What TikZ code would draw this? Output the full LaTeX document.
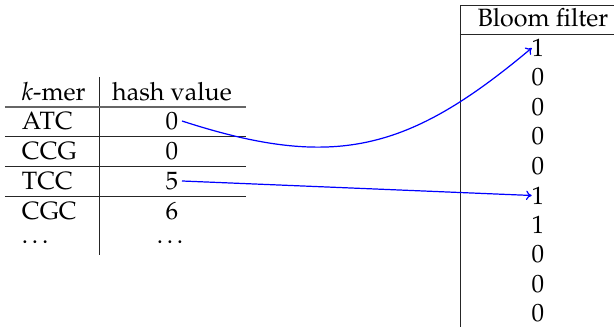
\documentclass[tikz,border=0pt]{standalone}
\usepackage[T1]{fontenc}
\usepackage{mathpazo}
\usetikzlibrary{arrows.meta}
\begin{document}
\begin{tikzpicture}[x=0.535pt,y=0.535pt,
  font=\fontsize{13.4}{16}\selectfont,
  cell/.style={inner sep=0pt,outer sep=0pt},
  rule/.style={draw=black!85,line width=0.4pt},
  toprule/.style={draw=black!60,line width=0.8pt},
  link/.style={draw=blue,line width=0.65pt,-{To[length=3pt,width=5pt]}}]
\useasboundingbox (0,0) rectangle (614,327);
% left table
\node[cell,anchor=west] (kh) at (22,235) {\textit{k}-mer};
\node[cell] (hh) at (172,235) {hash value};
\node[cell,anchor=west] (k1) at (22,206) {ATC};
\node[cell,anchor=west] (k2) at (22,176) {CCG};
\node[cell,anchor=west] (k3) at (22,146) {TCC};
\node[cell,anchor=west] (k4) at (22,116) {CGC};
\node[cell,anchor=west] (k5) at (22,85) {\dots};
\node[cell] (h1) at (172,206) {0};
\node[cell] (h2) at (172,176) {0};
\node[cell] (h3) at (172,146) {5};
\node[cell] (h4) at (172,116) {6};
\node[cell] (h5) at (172,85) {\dots};
\coordinate (vt) at (99,250);
\coordinate (vb) at (99,72);
\draw[rule] (vt) -- (vb);
\draw[toprule] (5,220) -- (246,220);
\draw[rule] (5,191) -- (246,191);
\draw[rule] (5,161) -- (246,161);
\draw[rule] (5,131) -- (246,131);
% bloom filter
\draw[rule] (460,0) -- (460,322) -- (614,322);
\node[cell] (bh) at (543,309) {Bloom filter};
\draw[rule] (460,293) -- (614,293);
\foreach \v [count=\i] in {1,0,0,0,0,1,1,0,0,0} {
  \node[cell] (b\i) at (538,{279-29.5*(\i-1)}) {\v};
}
% arrows
\draw[link] ([xshift=2pt]h1.east) to[out=-18,in=-140,looseness=1.15] (b1.west);
\draw[link] ([xshift=2pt]h3.east) -- (b6.west);
\end{tikzpicture}
\end{document}
